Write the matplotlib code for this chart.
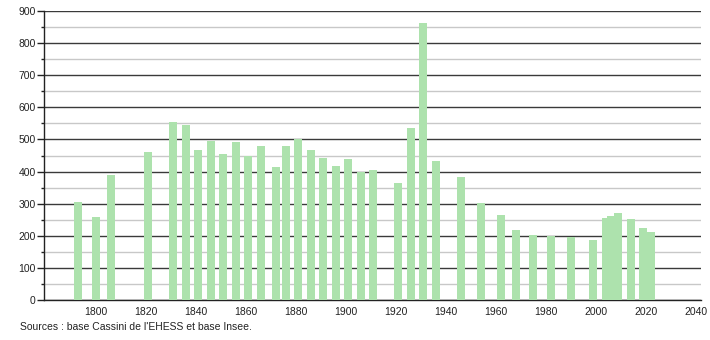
import matplotlib
matplotlib.use("Agg")
import matplotlib.pyplot as plt
from matplotlib.ticker import MultipleLocator

years = [1793, 1800, 1806, 1821, 1831, 1836, 1841, 1846, 1851, 1856,
         1861, 1866, 1872, 1876, 1881, 1886, 1891, 1896, 1901, 1906,
         1911, 1921, 1926, 1931, 1936, 1946, 1954, 1962, 1968, 1975,
         1982, 1990, 1999, 2004, 2006, 2009, 2014, 2019, 2022]
population = [305, 259, 390, 461, 553, 544, 466, 494, 454, 491,
              450, 479, 414, 479, 501, 466, 442, 417, 440, 398,
              404, 364, 535, 864, 432, 383, 302, 265, 218, 203,
              200, 196, 187, 255, 261, 270, 252, 225, 212]
x_ticks = [1800, 1820, 1840, 1860, 1880, 1900, 1920, 1940, 1960, 1980, 2000, 2020, 2040]
y_ticks = [0, 100, 200, 300, 400, 500, 600, 700, 800, 900]
source_text = "Sources : base Cassini de l'EHESS et base Insee."

plt.rcParams['font.family'] = ['Liberation Sans', 'DejaVu Sans']

fig = plt.figure(figsize=(7.1, 3.4), dpi=100)
ax = fig.add_axes([44/710, 40/340, (701-44)/710, (300-11)/340])

ax.bar(years, population, width=3.2, color='#ade2ad', zorder=3, linewidth=0)

ax.set_xlim(1779.3, 2042.1)
ax.set_ylim(0, 900)
ax.set_xticks(x_ticks)
ax.set_yticks(y_ticks)
ax.yaxis.set_minor_locator(MultipleLocator(50))

ax.grid(axis='y', which='major', color='#3a3a3a', linewidth=1.0, zorder=1)
ax.grid(axis='y', which='minor', color='#c8c8c8', linewidth=1.0, zorder=1)

for s in ['top', 'right']:
    ax.spines[s].set_visible(False)
ax.spines['left'].set_color('#222222')
ax.spines['bottom'].set_color('#222222')
ax.spines['left'].set_linewidth(1.0)
ax.spines['bottom'].set_linewidth(1.0)

ax.tick_params(axis='x', length=0, labelsize=7.5, pad=5, colors='#222222')
ax.tick_params(axis='y', which='major', length=5, width=1, labelsize=7.5, pad=1, colors='#222222')
ax.tick_params(axis='y', which='minor', length=2.5, width=1, colors='#222222')

fig.text(20/710, 1 - 327/340, source_text, fontsize=7.5, color='#222222', va='center', ha='left')

fig.savefig("out.png", dpi=100)
